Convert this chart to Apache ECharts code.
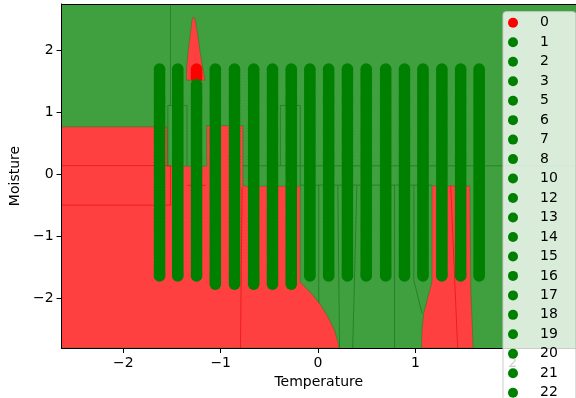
<!DOCTYPE html>
<html><head><meta charset="utf-8">
<script src="https://cdn.jsdelivr.net/npm/echarts@6/dist/echarts.min.js"></script>
<style>html,body{margin:0;padding:0;background:#fff}#c{width:576px;height:398px}</style>
</head><body><div id="c"></div>
<script>
// ---- axis ranges / ticks ----
const xRange = [-2.635, 2.65];
const yRange = [-2.80, 2.74];
const xTicks = [-2, -1, 0, 1, 2];
const yTicks = [-2, -1, 0, 1, 2];

// ---- scatter data ----
const temperatureCols = [-1.628, -1.441, -1.248, -1.055, -0.858, -0.661, -0.468, -0.275, -0.084,
  0.109, 0.302, 0.495, 0.695, 0.888, 1.078, 1.272, 1.465, 1.655];
const moistureLevels = [1.69, 1.64, 1.59, 1.54, 1.49, 1.44, 1.39, 1.34, 1.29, 1.24, 1.19, 1.14,
  1.09, 1.04, 0.99, 0.94, 0.89, 0.84, 0.79, 0.74, 0.69, 0.64, 0.59, 0.54, 0.49, 0.44, 0.39, 0.34,
  0.29, 0.24, 0.19, 0.14, 0.09, 0.04, -0.01, -0.06, -0.11, -0.16, -0.21, -0.26, -0.31, -0.36,
  -0.41, -0.46, -0.51, -0.56, -0.61, -0.66, -0.71, -0.76, -0.81, -0.86, -0.91, -0.96, -1.01,
  -1.06, -1.11, -1.16, -1.21, -1.26, -1.31, -1.36, -1.41, -1.46, -1.51, -1.56, -1.60, -1.64];
const deepLevels = [-1.68, -1.73, -1.77];
const deepCols = [3, 4, 5, 6, 7];
const redClassCol = 2;
const redClassLevels = [1.69, 1.64, 1.59, 1.55];
const redClassName = '0';
const greenClassNames = ['1', '2', '3', '5', '6', '7', '8', '10', '12', '13', '14', '15', '16',
  '17', '18', '19', '20', '21', '22'];

// ---- decision regions (data coordinates) ----
const redRegions = [
  [[-2.635, 0.762], [-1.551, 0.762], [-1.551, 0.129], [-1.144, 0.129], [-1.144, 0.781], [-0.770, 0.781],
   [-0.770, -0.193], [-0.183, -0.193], [-0.183, -1.739], [-0.068, -1.921], [0.017, -2.082],
   [0.102, -2.298], [0.170, -2.512], [0.221, -2.80], [-2.635, -2.80]],
  [[1.170, -0.188], [1.560, -0.188], [1.570, -1.868], [1.594, -2.80], [1.061, -2.80], [1.068, -2.512],
   [1.085, -2.243], [1.170, -1.734]],
  [[-1.282, 2.533], [-1.264, 2.507], [-1.238, 2.266], [-1.214, 1.997], [-1.187, 1.728], [-1.160, 1.514],
   [-1.353, 1.514], [-1.350, 1.728], [-1.333, 1.997], [-1.312, 2.266], [-1.295, 2.480]]
];
const redSeams = [
  [[-2.635, 0.137], [-1.516, 0.137]],
  [[-2.635, -0.499], [-1.516, -0.499], [-1.516, 0.137]],
  [[-1.346, -0.18], [-1.153, -0.18]],
  [[-0.78, -0.21], [-0.797, -2.80]],
  [[1.363, -0.188], [1.391, -1.224], [1.434, -2.80]]
];
const greenSeams = [
  [[-1.516, 2.74], [-1.516, 1.106]],
  [[-1.543, 0.137], [-1.543, 1.106], [-1.346, 1.106], [-1.346, 0.137]],
  [[-0.387, 0.134], [-0.387, 1.106], [-0.183, 1.106], [-0.183, -0.18]],
  [[-0.770, 0.134], [2.65, 0.134]],
  [[-0.183, -0.177], [1.170, -0.177]],
  [[0.007, -0.18], [0.007, -2.08]],
  [[0.203, -0.18], [0.221, -2.80]],
  [[0.399, -0.18], [0.356, -2.80]],
  [[0.786, -0.18], [0.786, -2.80]],
  [[0.984, -0.18], [0.984, -1.71], [1.068, -2.24]]
];

// ---- build series ----
function toMinus(v) { return String(v).replace('-', '\u2212'); }

function polySeries(polys, style, z) {
  return {
    type: 'custom', coordinateSystem: 'cartesian2d', silent: true, z: z, clip: true,
    data: polys.map(p => p[0]),
    renderItem: (params, api) => ({
      type: 'polygon',
      shape: { points: polys[params.dataIndex].map(pt => api.coord(pt)) },
      style: style
    })
  };
}
function lineSeries(lines, color, z) {
  return {
    type: 'custom', coordinateSystem: 'cartesian2d', silent: true, z: z, clip: true,
    data: lines.map(p => p[0]),
    renderItem: (params, api) => ({
      type: 'polyline',
      shape: { points: lines[params.dataIndex].map(pt => api.coord(pt)) },
      style: { stroke: color, lineWidth: 1, fill: null }
    })
  };
}

const series = [];
series.push(polySeries(redRegions, { fill: '#FF4040', stroke: 'rgba(20,120,20,0.55)', lineWidth: 0.8 }, 1));
series.push(lineSeries(redSeams, 'rgba(235,20,20,0.8)', 1.2));
series.push(lineSeries(greenSeams, 'rgba(30,120,30,0.75)', 1.2));

const scatterBase = { type: 'scatter', symbol: 'circle', symbolSize: 11.7, silent: true, z: 3,
  emphasis: { disabled: true } };
series.push(Object.assign({}, scatterBase, {
  name: redClassName,
  itemStyle: { color: '#FF0000', opacity: 1, borderWidth: 0 },
  data: redClassLevels.map(m => [temperatureCols[redClassCol], m])
}));
greenClassNames.forEach((name, i) => {
  let data = [];
  if (i < temperatureCols.length) {
    const x = temperatureCols[i];
    const levels = i === redClassCol ? moistureLevels.filter(m => m < 1.45) : moistureLevels;
    data = levels.map(m => [x, m]);
  } else {
    deepCols.forEach(c => deepLevels.forEach(m => data.push([temperatureCols[c], m])));
  }
  series.push(Object.assign({}, scatterBase, { name: name,
    itemStyle: { color: '#008000', opacity: 1, borderWidth: 0 }, data: data }));
});

const font = 'DejaVu Sans';
const chart = echarts.init(document.getElementById('c'), null, { renderer: 'canvas' });
chart.setOption({
  animation: false,
  textStyle: { fontFamily: font },
  grid: { left: 61, top: 4, width: 520, height: 344, show: true, backgroundColor: '#40A040', borderWidth: 0 },
  xAxis: [{
    type: 'value', min: xRange[0], max: xRange[1], z: 10,
    name: 'Temperature', nameLocation: 'middle', nameGap: 27,
    nameTextStyle: { fontSize: 14, color: '#000', fontFamily: font },
    axisLine: { show: true, onZero: false, lineStyle: { color: '#000', width: 1 } },
    axisTick: { show: true, length: 5, customValues: xTicks, lineStyle: { color: '#000' } },
    axisLabel: { customValues: xTicks, fontSize: 14, color: '#000', margin: 8, fontFamily: font, formatter: toMinus },
    splitLine: { show: false }
  }, {
    type: 'value', min: xRange[0], max: xRange[1], position: 'top', z: 10,
    axisLine: { show: true, onZero: false, lineStyle: { color: '#000', width: 1 } },
    axisTick: { show: false }, axisLabel: { show: false }, splitLine: { show: false }
  }],
  yAxis: [{
    type: 'value', min: yRange[0], max: yRange[1], z: 10,
    name: 'Moisture', nameLocation: 'middle', nameGap: 37, nameRotate: 90,
    nameTextStyle: { fontSize: 14, color: '#000', fontFamily: font },
    axisLine: { show: true, onZero: false, lineStyle: { color: '#000', width: 1 } },
    axisTick: { show: true, length: 5, customValues: yTicks, lineStyle: { color: '#000' } },
    axisLabel: { customValues: yTicks, fontSize: 14, color: '#000', margin: 8, fontFamily: font, formatter: toMinus },
    splitLine: { show: false }
  }, {
    type: 'value', min: yRange[0], max: yRange[1], position: 'right', z: 10,
    axisLine: { show: true, onZero: false, lineStyle: { color: '#000', width: 1 } },
    axisTick: { show: false }, axisLabel: { show: false }, splitLine: { show: false }
  }],
  legend: {
    show: true, orient: 'vertical', left: 503, top: 11.7, height: 700, z: 20,
    data: [redClassName].concat(greenClassNames),
    icon: 'circle', itemWidth: 30, itemHeight: 10, itemGap: 5.47,
    padding: [4.1, 18, 3, 5],
    backgroundColor: 'rgba(255,255,255,0.8)', borderColor: '#cccccc', borderWidth: 1, borderRadius: 3,
    textStyle: { fontSize: 14, color: '#000', fontFamily: font, padding: [0, 0, 0, 7] },
    selectedMode: false
  },
  series: series
});
</script></body></html>
